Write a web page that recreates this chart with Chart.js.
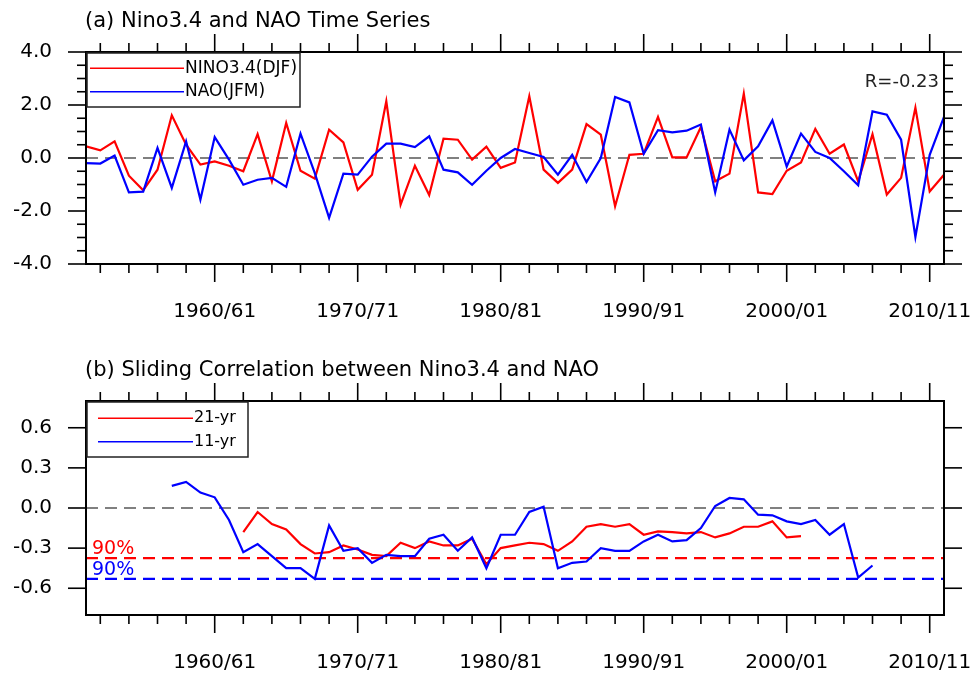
<!DOCTYPE html>
<html>
<head>
<meta charset="utf-8">
<script src="https://cdn.jsdelivr.net/npm/chart.js@4.4.1/dist/chart.umd.min.js"></script>
<style>
  body { margin: 0; background: #fff; }
  #wrap { position: relative; width: 978px; height: 675px; }
  canvas { position: absolute; left: 0; }
</style>
</head>
<body>
<div id="wrap">
  <canvas id="chartA" width="978" height="335" style="top:0"></canvas>
  <canvas id="chartB" width="978" height="340" style="top:335px"></canvas>
</div>
<script>
// ---- data ----
const years = [1951, 1952, 1953, 1954, 1955, 1956, 1957, 1958, 1959, 1960,
  1961, 1962, 1963, 1964, 1965, 1966, 1967, 1968, 1969, 1970,
  1971, 1972, 1973, 1974, 1975, 1976, 1977, 1978, 1979, 1980,
  1981, 1982, 1983, 1984, 1985, 1986, 1987, 1988, 1989, 1990,
  1991, 1992, 1993, 1994, 1995, 1996, 1997, 1998, 1999, 2000,
  2001, 2002, 2003, 2004, 2005, 2006, 2007, 2008, 2009, 2010, 2011];

const nino34 = [0.44, 0.29, 0.63, -0.67, -1.22, -0.44, 1.61, 0.5, -0.25, -0.13,
  -0.29, -0.5, 0.9, -0.88, 1.32, -0.48, -0.78, 1.07, 0.59, -1.2,
  -0.63, 2.14, -1.76, -0.29, -1.4, 0.73, 0.69, -0.06, 0.43, -0.37,
  -0.17, 2.33, -0.44, -0.94, -0.44, 1.28, 0.88, -1.82, 0.12, 0.16,
  1.55, 0.02, 0.02, 1.17, -0.88, -0.59, 2.43, -1.3, -1.36, -0.48,
  -0.17, 1.1, 0.16, 0.51, -0.88, 0.9, -1.38, -0.75, 1.9, -1.26, -0.63];

const nao = [-0.19, -0.21, 0.09, -1.3, -1.27, 0.38, -1.13, 0.63, -1.57, 0.79,
  -0.06, -1.01, -0.82, -0.75, -1.09, 0.92, -0.57, -2.26, -0.59, -0.63,
  0.05, 0.54, 0.54, 0.41, 0.82, -0.44, -0.54, -1.01, -0.48, 0.0,
  0.34, 0.19, 0.04, -0.63, 0.12, -0.91, 0.0, 2.3, 2.1, 0.16,
  1.05, 0.97, 1.03, 1.26, -1.3, 1.07, -0.09, 0.44, 1.42, -0.32,
  0.92, 0.23, 0.0, -0.5, -1.03, 1.76, 1.63, 0.69, -2.98, 0.12, 1.55];

// sliding correlations, centred years
const years21 = years.slice(11, 51);   // 1962 .. 2001
const corr21 = [-0.18, -0.03, -0.12, -0.16, -0.27, -0.34, -0.33, -0.28, -0.31, -0.35,
  -0.36, -0.26, -0.30, -0.25, -0.28, -0.28, -0.23, -0.42, -0.30, -0.28,
  -0.26, -0.27, -0.32, -0.25, -0.14, -0.12, -0.14, -0.12, -0.20, -0.175,
  -0.18, -0.19, -0.18, -0.22, -0.19, -0.14, -0.14, -0.10, -0.22, -0.21];

const years11 = years.slice(6, 56);    // 1957 .. 2006
const corr11 = [0.165, 0.195, 0.115, 0.08, -0.09, -0.33, -0.27, -0.36, -0.45, -0.45,
  -0.53, -0.13, -0.32, -0.30, -0.41, -0.35, -0.36, -0.36, -0.23, -0.20,
  -0.32, -0.22, -0.45, -0.20, -0.20, -0.03, 0.01, -0.45, -0.41, -0.40,
  -0.30, -0.32, -0.32, -0.25, -0.20, -0.25, -0.24, -0.15, 0.015, 0.075,
  0.065, -0.05, -0.055, -0.10, -0.12, -0.09, -0.20, -0.12, -0.52, -0.43];

const sig21 = -0.375;   // 90% level, 21-yr window
const sig11 = -0.53;    // 90% level, 11-yr window
const corrR = '-0.23';

// ---- ticks ----
const xMajor = [1960, 1970, 1980, 1990, 2000, 2010];
const xMinor = [1952, 1954, 1956, 1958, 1962, 1964, 1966, 1968, 1972, 1974, 1976, 1978,
  1982, 1984, 1986, 1988, 1992, 1994, 1996, 1998, 2002, 2004, 2006, 2008];
const yMajorA = [-4, -2, 0, 2, 4];
const yMinorA = [-3.5, -3, -2.5, -1.5, -1, -0.5, 0.5, 1, 1.5, 2.5, 3, 3.5];
const yMajorB = [-0.6, -0.3, 0, 0.3, 0.6];

const FONT = '"DejaVu Sans", sans-serif';
Chart.defaults.font.family = FONT;
Chart.defaults.color = '#000';

const pts = (xs, ys) => ys.map((v, i) => ({ x: xs[i], y: v }));
const flat = (v) => [{ x: years[0], y: v }, { x: years[years.length - 1], y: v }];
const yearLabel = (v) => v + '/' + String((v + 1) % 100).padStart(2, '0');

// frame, tick marks, legend and notes drawn on top of the plot
function panelPlugin(cfg) {
  return {
    id: 'panel',
    afterDraw(chart) {
      const { ctx, chartArea: a } = chart;
      const sx = chart.scales.x, sy = chart.scales.y;
      ctx.save();
      ctx.strokeStyle = '#000';
      const seg = (x1, y1, x2, y2) => { ctx.beginPath(); ctx.moveTo(x1, y1); ctx.lineTo(x2, y2); ctx.stroke(); };
      ctx.lineWidth = 1.6;
      xMajor.forEach(v => { const p = sx.getPixelForValue(v); seg(p, a.bottom, p, a.bottom + 18); seg(p, a.top, p, a.top - 18); });
      xMinor.forEach(v => { const p = sx.getPixelForValue(v); seg(p, a.bottom, p, a.bottom + 9); seg(p, a.top, p, a.top - 9); });
      cfg.yMajor.forEach(v => { const p = sy.getPixelForValue(v); seg(a.left - 18, p, a.left, p); seg(a.right, p, a.right + 18, p); });
      cfg.yMinor.forEach(v => { const p = sy.getPixelForValue(v); seg(a.left - 9, p, a.left, p); seg(a.right, p, a.right + 9, p); });
      ctx.lineWidth = 2;
      ctx.strokeRect(a.left, a.top, a.right - a.left, a.bottom - a.top);

      // title
      ctx.fillStyle = '#000';
      ctx.textBaseline = 'middle';
      ctx.textAlign = 'left';
      ctx.font = '21px ' + FONT;
      ctx.fillText(cfg.title, 85, cfg.titleY);

      // legend box
      const L = cfg.legend;
      ctx.fillStyle = '#fff';
      ctx.fillRect(L.x, L.y, L.w, L.h);
      ctx.lineWidth = 1.5;
      ctx.strokeStyle = '#222';
      ctx.strokeRect(L.x, L.y, L.w, L.h);
      ctx.font = L.size + 'px ' + FONT;
      L.items.forEach((it, i) => {
        const ds = chart.data.datasets[it];
        const yy = L.rows[i];
        ctx.strokeStyle = ds.borderColor;
        ctx.lineWidth = 1.5;
        seg(L.x0, yy, L.x1, yy);
        ctx.fillStyle = '#000';
        ctx.fillText(ds.label, L.x1 + 1, yy);
      });

      // notes
      cfg.notes.forEach(n => {
        ctx.font = n.size + 'px ' + FONT;
        ctx.fillStyle = n.color;
        ctx.textAlign = n.align;
        ctx.fillText(n.text, n.x, n.y);
      });
      ctx.restore();
    }
  };
}

function baseOptions(ymin, ymax, yTicks, yPad, xHeight, xPad, topPad) {
  return {
    responsive: false,
    animation: false,
    devicePixelRatio: 1,
    events: [],
    layout: { padding: { top: topPad, right: 34, bottom: 0, left: 0 } },
    plugins: { legend: { display: false }, tooltip: { enabled: false } },
    elements: { point: { radius: 0 }, line: { borderWidth: 2.2, tension: 0 } },
    scales: {
      x: {
        type: 'linear', min: years[0], max: years[years.length - 1],
        grid: { display: false, drawTicks: false },
        border: { display: false },
        afterBuildTicks: s => { s.ticks = xMajor.map(v => ({ value: v })); },
        afterFit: s => { s.height = xHeight; s.paddingLeft = 0; s.paddingRight = 0; },
        ticks: { padding: xPad, maxRotation: 0, autoSkip: false, font: { size: 20 }, callback: v => yearLabel(v) }
      },
      y: {
        min: ymin, max: ymax,
        grid: { display: false, drawTicks: false },
        border: { display: false },
        afterBuildTicks: s => { s.ticks = yTicks.map(v => ({ value: v })); },
        afterFit: s => { s.width = 86; s.paddingTop = 0; s.paddingBottom = 0; },
        ticks: { padding: yPad, font: { size: 20 }, callback: v => Number(v).toFixed(1) }
      }
    }
  };
}

// ---- panel (a) ----
new Chart(document.getElementById('chartA'), {
  type: 'line',
  data: {
    datasets: [
      { label: 'NINO3.4(DJF)', data: pts(years, nino34), borderColor: '#ff0000', order: 2 },
      { label: 'NAO(JFM)', data: pts(years, nao), borderColor: '#0000ff', order: 1 },
      { label: 'zero', data: flat(0), borderColor: '#808080', borderDash: [12, 7], order: 5 }
    ]
  },
  options: baseOptions(-4, 4, yMajorA, 34, 71, 36, 52),
  plugins: [panelPlugin({
    title: '(a) Nino3.4 and NAO Time Series', titleY: 21.7,
    yMajor: yMajorA, yMinor: yMinorA,
    legend: { x: 87, y: 53, w: 213, h: 54, x0: 90, x1: 184, rows: [68.3, 91.7], size: 17, items: [0, 1] },
    notes: [{ text: 'R=' + corrR, x: 939, y: 82.5, size: 18, color: '#222', align: 'right' }]
  })]
});

// ---- panel (b) ----
new Chart(document.getElementById('chartB'), {
  type: 'line',
  data: {
    datasets: [
      { label: '21-yr', data: pts(years21, corr21), borderColor: '#ff0000', order: 2 },
      { label: '11-yr', data: pts(years11, corr11), borderColor: '#0000ff', order: 1 },
      { label: 'zero', data: flat(0), borderColor: '#808080', borderDash: [12, 7], order: 5 },
      { label: '90% 21-yr', data: flat(sig21), borderColor: '#ff0000', borderDash: [12, 7], order: 4 },
      { label: '90% 11-yr', data: flat(sig11), borderColor: '#0000ff', borderDash: [12, 7], order: 3 }
    ]
  },
  options: baseOptions(-0.8, 0.8, yMajorB, 34, 60, 35.5, 66),
  plugins: [panelPlugin({
    title: '(b) Sliding Correlation between Nino3.4 and NAO', titleY: 36,
    yMajor: yMajorB, yMinor: [],
    legend: { x: 87, y: 67, w: 161, h: 55, x0: 98, x1: 193, rows: [83.3, 106.7], size: 16, items: [0, 1] },
    notes: [
      { text: '90%', x: 92, y: 214, size: 19, color: '#ff0000', align: 'left' },
      { text: '90%', x: 92, y: 235, size: 19, color: '#0000ff', align: 'left' }
    ]
  })]
});
</script>
</body>
</html>
